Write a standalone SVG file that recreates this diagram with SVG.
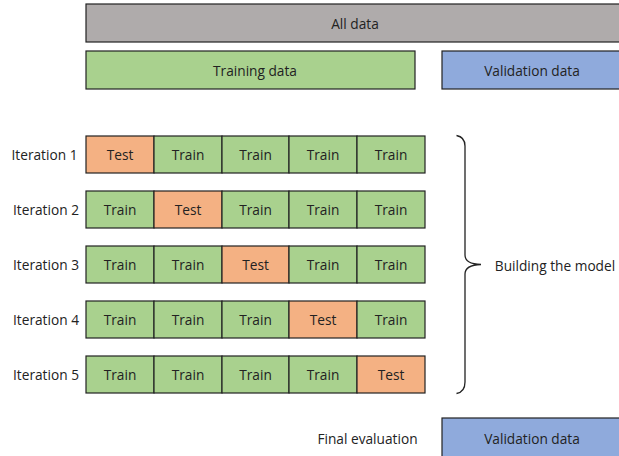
<svg xmlns="http://www.w3.org/2000/svg" width="619" height="456" viewBox="0 0 619 456">
<style>
text{font-family:"Open Sans","Liberation Sans",sans-serif;font-size:13.7px;fill:#222;text-anchor:middle;dominant-baseline:central}
.box{stroke:#222;stroke-width:1.2}
.g{fill:#AFABAB}.tr{fill:#A9D18E}.v{fill:#8FAADC}.te{fill:#F4B183}
</style>
<rect x="0" y="0" width="619" height="456" fill="#fff"/>
<g id="all-data"><rect class="box g" x="86" y="4" width="540" height="38"/><text x="355" y="23">All data</text></g>
<g id="training-data"><rect class="box tr" x="86" y="51" width="329" height="38"/><text x="255" y="70">Training data</text></g>
<g id="validation-data"><rect class="box v" x="442" y="51" width="190" height="38"/><text x="532" y="70">Validation data</text></g>

<g id="iteration-1">
<text x="44.5" y="154">Iteration 1</text>
<rect class="box te" x="86" y="136" width="68" height="37"/><text x="120" y="154.5">Test</text>
<rect class="box tr" x="154" y="136" width="68" height="37"/><text x="188" y="154.5">Train</text>
<rect class="box tr" x="222" y="136" width="67" height="37"/><text x="255.5" y="154.5">Train</text>
<rect class="box tr" x="289" y="136" width="68" height="37"/><text x="323" y="154.5">Train</text>
<rect class="box tr" x="357" y="136" width="68" height="37"/><text x="391" y="154.5">Train</text>
</g>
<g id="iteration-2">
<text x="46" y="209">Iteration 2</text>
<rect class="box tr" x="86" y="191" width="68" height="37"/><text x="120" y="209.5">Train</text>
<rect class="box te" x="154" y="191" width="68" height="37"/><text x="188" y="209.5">Test</text>
<rect class="box tr" x="222" y="191" width="67" height="37"/><text x="255.5" y="209.5">Train</text>
<rect class="box tr" x="289" y="191" width="68" height="37"/><text x="323" y="209.5">Train</text>
<rect class="box tr" x="357" y="191" width="68" height="37"/><text x="391" y="209.5">Train</text>
</g>
<g id="iteration-3">
<text x="46" y="264">Iteration 3</text>
<rect class="box tr" x="86" y="246" width="68" height="37"/><text x="120" y="264.5">Train</text>
<rect class="box tr" x="154" y="246" width="68" height="37"/><text x="188" y="264.5">Train</text>
<rect class="box te" x="222" y="246" width="67" height="37"/><text x="255.5" y="264.5">Test</text>
<rect class="box tr" x="289" y="246" width="68" height="37"/><text x="323" y="264.5">Train</text>
<rect class="box tr" x="357" y="246" width="68" height="37"/><text x="391" y="264.5">Train</text>
</g>
<g id="iteration-4">
<text x="46" y="319">Iteration 4</text>
<rect class="box tr" x="86" y="301" width="68" height="37"/><text x="120" y="319.5">Train</text>
<rect class="box tr" x="154" y="301" width="68" height="37"/><text x="188" y="319.5">Train</text>
<rect class="box tr" x="222" y="301" width="67" height="37"/><text x="255.5" y="319.5">Train</text>
<rect class="box te" x="289" y="301" width="68" height="37"/><text x="323" y="319.5">Test</text>
<rect class="box tr" x="357" y="301" width="68" height="37"/><text x="391" y="319.5">Train</text>
</g>
<g id="iteration-5">
<text x="46" y="374">Iteration 5</text>
<rect class="box tr" x="86" y="356" width="68" height="37"/><text x="120" y="374.5">Train</text>
<rect class="box tr" x="154" y="356" width="68" height="37"/><text x="188" y="374.5">Train</text>
<rect class="box tr" x="222" y="356" width="67" height="37"/><text x="255.5" y="374.5">Train</text>
<rect class="box tr" x="289" y="356" width="68" height="37"/><text x="323" y="374.5">Train</text>
<rect class="box te" x="357" y="356" width="68" height="37"/><text x="391" y="374.5">Test</text>
</g>

<g id="connectors">
<path d="M456.5,135.5 Q465,137 465,146 L465,255 Q465,264 481,264.5 Q465,265 465,274 L465,382 Q465,392 456.5,393.5" fill="none" stroke="#222" stroke-width="1.3"/>
</g>
<g id="building-label"><text x="555" y="265">Building the model</text></g>

<g id="final-evaluation"><text x="367.5" y="438">Final evaluation</text></g>
<g id="validation-final"><rect class="box v" x="442" y="418" width="190" height="45"/><text x="532" y="438">Validation data</text></g>
</svg>
